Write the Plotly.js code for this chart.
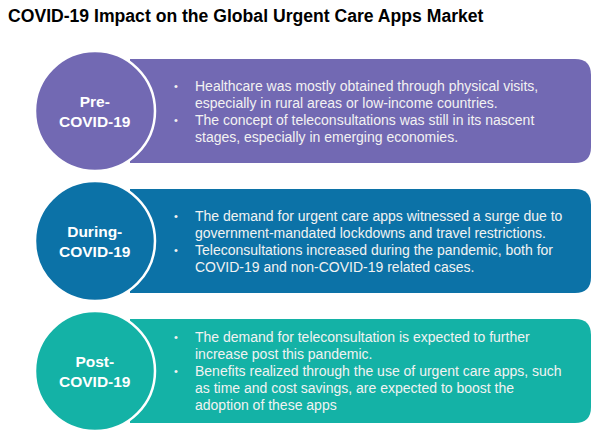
<!DOCTYPE html>
<html>
<head>
<meta charset="utf-8">
<script src="https://cdn.plot.ly/plotly-3.0.1.min.js"></script>
<style>html,body{margin:0;padding:0;background:#fff;}#chart{width:601px;height:438px;}</style>
</head>
<body>
<div id="chart"></div>
<script>
// ---- content ----
const chartTitle = "COVID-19 Impact on the Global Urgent Care Apps Market";
const stageLabels = ["Pre-<br>COVID-19", "During-<br>COVID-19", "Post-<br>COVID-19"];
const stageBullets = [
  [
    ["Healthcare was mostly obtained through physical visits,", "especially in rural areas or low-income countries."],
    ["The concept of teleconsultations was still in its nascent", "stages, especially in emerging economies."]
  ],
  [
    ["The demand for urgent care apps witnessed a surge due to", "government-mandated lockdowns and travel restrictions."],
    ["Teleconsultations increased during the pandemic, both for", "COVID-19 and non-COVID-19 related cases."]
  ],
  [
    ["The demand for teleconsultation is expected to further", "increase post this pandemic."],
    ["Benefits realized through the use of urgent care apps, such", "as time and cost savings, are expected to boost the", "adoption of these apps"]
  ]
];

// ---- styles / layout ----
const stageColors = ["#7269B3", "#0C72A7", "#14B2A6"];
const FONT = "Liberation Sans, Arial, sans-serif";
const rowCenters = [111, 241, 371];
const rectLeft = 130, rectRight = 591, rectHalfH = 52, cornerR = 16;
const circleCx = 95, circleR = 60;
const bulletX = 176, textX = 193, lineStep = 17;

const shapes = [];
const annotations = [];

stageLabels.forEach((label, i) => {
  const cy = rowCenters[i];
  const t = cy - rectHalfH, b = cy + rectHalfH;
  shapes.push({
    type: "path", xref: "x", yref: "y", layer: "below",
    path: `M ${rectLeft},${t} L ${rectRight - cornerR},${t} Q ${rectRight},${t} ${rectRight},${t + cornerR} ` +
          `L ${rectRight},${b - cornerR} Q ${rectRight},${b} ${rectRight - cornerR},${b} L ${rectLeft},${b} Z`,
    fillcolor: stageColors[i], line: {width: 0}
  });
  shapes.push({
    type: "circle", xref: "x", yref: "y", layer: "below",
    x0: circleCx - circleR, x1: circleCx + circleR, y0: cy - circleR, y1: cy + circleR,
    fillcolor: stageColors[i], line: {color: "#ffffff", width: 2.5}
  });
  annotations.push({
    x: circleCx, y: cy, xref: "x", yref: "y", text: "<b>" + label + "</b>",
    showarrow: false, xanchor: "center", yanchor: "middle", align: "center",
    font: {family: FONT, size: 15.5, color: "#ffffff"}
  });
  const lines = [];
  stageBullets[i].forEach(bul => bul.forEach((ln, k) => lines.push({text: ln, first: k === 0})));
  const n = lines.length;
  lines.forEach((ln, j) => {
    const y = cy + (j - (n - 1) / 2) * lineStep;
    annotations.push({
      x: textX, y: y, xref: "x", yref: "y", text: ln.text, showarrow: false,
      xanchor: "left", yanchor: "middle", align: "left",
      font: {family: FONT, size: 14, color: "#F2F2F2"}
    });
    if (ln.first) {
      annotations.push({
        x: bulletX, y: y, xref: "x", yref: "y", text: "•", showarrow: false,
        xanchor: "center", yanchor: "middle",
        font: {family: FONT, size: 11, color: "#F2F2F2"}
      });
    }
  });
});

annotations.push({
  x: 6, y: 16, xref: "x", yref: "y", text: "<b>" + chartTitle + "</b>", showarrow: false,
  xanchor: "left", yanchor: "middle", font: {family: FONT, size: 17.6, color: "#000000"}
});

const layout = {
  width: 601, height: 438,
  margin: {l: 0, r: 0, t: 0, b: 0},
  paper_bgcolor: "#ffffff", plot_bgcolor: "#ffffff",
  xaxis: {range: [0, 601], visible: false, fixedrange: true},
  yaxis: {range: [438, 0], visible: false, fixedrange: true},
  showlegend: false,
  shapes: shapes,
  annotations: annotations
};

Plotly.newPlot("chart", [{x: [], y: [], type: "scatter"}], layout, {staticPlot: true, displayModeBar: false});
</script>
</body>
</html>
